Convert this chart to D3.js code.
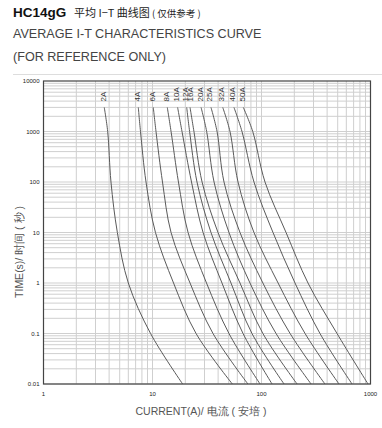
<!DOCTYPE html>
<html><head><meta charset="utf-8">
<script src="https://cdn.jsdelivr.net/npm/d3@7"></script>
<style>
html,body{margin:0;padding:0;background:#fff;}
svg{display:block;font-family:"Liberation Sans",Arial,sans-serif;}
</style></head>
<body>
<svg id="c" width="382" height="428"></svg>
<script>
// ---- data ----
const ratings = ["2A","4A","6A","8A","10A","12A","16A","20A","25A","32A","40A","50A"];
const times = [3000, 1000, 100, 10, 1, 0.1, 0.01];
const c2A  = [3.61, 3.88, 4.16, 4.76, 6.0, 9.6, 18.9];
const c4A  = [7.41, 7.76, 8.72, 10.65, 15.6, 25.1, 54];
const c6A  = [10.17, 10.77, 12.35, 14.8, 22.1, 35.9, 75];
const c8A  = [13.67, 14.8, 17.3, 21.2, 31.3, 50.3, 97];
const c10A = [17.0, 18.65, 22.8, 29.1, 43.4, 67.7, 125];
const c12A = [20.6, 21.9, 25.6, 34.4, 52.5, 81.8, 161];
const c16A = [22.1, 24.0, 28.5, 39.9, 63.5, 103, 212];
const c20A = [27.9, 31.4, 36.7, 50.3, 78.4, 136, 285];
const c25A = [34.4, 39.1, 45.3, 63.5, 103, 183, 382];
const c32A = [44.1, 51.4, 60.9, 85.3, 142, 251, 514];
const c40A = [55.9, 66.2, 85.3, 127.5, 203, 344, 677];
const c50A = [68.1, 83.1, 107.7, 168, 267, 493, 949];
const curves = [c2A,c4A,c6A,c8A,c10A,c12A,c16A,c20A,c25A,c32A,c40A,c50A];
const xTicks = [1, 10, 100, 1000];
const yTicks = [0.01, 0.1, 1, 10, 100, 1000, 10000];
const yTickLabels = ["0.01","0.1","1","10","100","1000","10000"];

// ---- layout ----
const svg = d3.select("#c");
const L = 43.5, R = 370.5, T = 81, B = 384;
const x = d3.scaleLog().domain([1, 1000]).range([L, R]);
const y = d3.scaleLog().domain([0.01, 10000]).range([B, T]);

// header
const hdr = svg.append("g");
hdr.append("text").attr("x", 13).attr("y", 17).attr("font-size", 13.5).attr("font-weight", "bold")
  .attr("fill", "#111").text("HC14gG");
const t1 = hdr.append("text").attr("x", 74).attr("y", 16.5).attr("fill", "#222")
  .attr("font-family", "'Noto Sans CJK SC',sans-serif");
t1.append("tspan").attr("font-size", 11).text("平均 I−T 曲线图");
t1.append("tspan").attr("font-size", 9.5).text(" ( 仅供参考 )");
hdr.append("text").attr("x", 13).attr("y", 38).attr("font-size", 12.6).attr("fill", "#444")
  .text("AVERAGE I-T CHARACTERISTICS CURVE");
hdr.append("text").attr("x", 13).attr("y", 61).attr("font-size", 12.6).attr("fill", "#444")
  .text("(FOR REFERENCE ONLY)");
hdr.append("line").attr("x1", 13).attr("x2", 382).attr("y1", 74.5).attr("y2", 74.5)
  .attr("stroke", "#ddd").attr("stroke-width", 1);

// grid
const grid = svg.append("g").attr("stroke", "#cfcfcf").attr("stroke-width", 1);
const xGrid = [];
for (let d = 1; d < 1000; d *= 10) for (let m = 1; m <= 9; m++) xGrid.push(d * m);
const yGrid = [];
for (let d = 0.01; d < 10000; d *= 10) for (let m = 1; m <= 9; m++) yGrid.push(+(d * m).toPrecision(3));
grid.selectAll(".vx").data(xGrid).join("line")
  .attr("x1", d => x(d)).attr("x2", d => x(d)).attr("y1", T).attr("y2", B);
grid.selectAll(".hy").data(yGrid).join("line")
  .attr("y1", d => y(d)).attr("y2", d => y(d)).attr("x1", L).attr("x2", R);

// curves
const line = d3.line().x(d => x(d[0])).y(d => y(d[1])).curve(d3.curveCatmullRom.alpha(0.5));
svg.append("g").selectAll("path").data(curves).join("path")
  .attr("d", c => line(c.map((v, i) => [v, times[i]])))
  .attr("fill", "none").attr("stroke", "#5a5a5a").attr("stroke-width", 1);

// curve labels
let prev = -100;
const labPos = curves.map(c => { let p = x(c[0]) - 1; if (p - prev < 5) p = prev + 5; prev = p; return p; });
svg.append("g").selectAll("text").data(ratings).join("text")
  .attr("transform", (d, i) => `translate(${labPos[i] + 2.5},${y(times[0]) - 6}) rotate(-90)`)
  .attr("font-size", 8).attr("fill", "#333").text(d => d);

// frame
svg.append("rect").attr("x", L).attr("y", T).attr("width", R - L).attr("height", B - T)
  .attr("fill", "none").attr("stroke", "#444").attr("stroke-width", 1.2);

// axes labels
svg.append("g").selectAll("text").data(yTicks).join("text")
  .attr("x", L - 4).attr("y", d => y(d) + 2).attr("text-anchor", "end")
  .attr("font-size", 6).attr("fill", "#222").text((d, i) => yTickLabels[i]);
svg.append("g").selectAll("text").data(xTicks).join("text")
  .attr("x", d => x(d)).attr("y", B + 12).attr("text-anchor", "middle")
  .attr("font-size", 6).attr("fill", "#222").text(d => d);

svg.append("text").attr("transform", `translate(23,252) rotate(-90)`).attr("text-anchor", "middle")
  .attr("font-size", 10.5).attr("fill", "#555").text("TIME(s)/ 时间 ( 秒 )");
svg.append("text").attr("x", 201).attr("y", 415).attr("text-anchor", "middle")
  .attr("font-size", 10.5).attr("fill", "#555").text("CURRENT(A)/ 电流 ( 安培 )");
</script>
</body></html>
